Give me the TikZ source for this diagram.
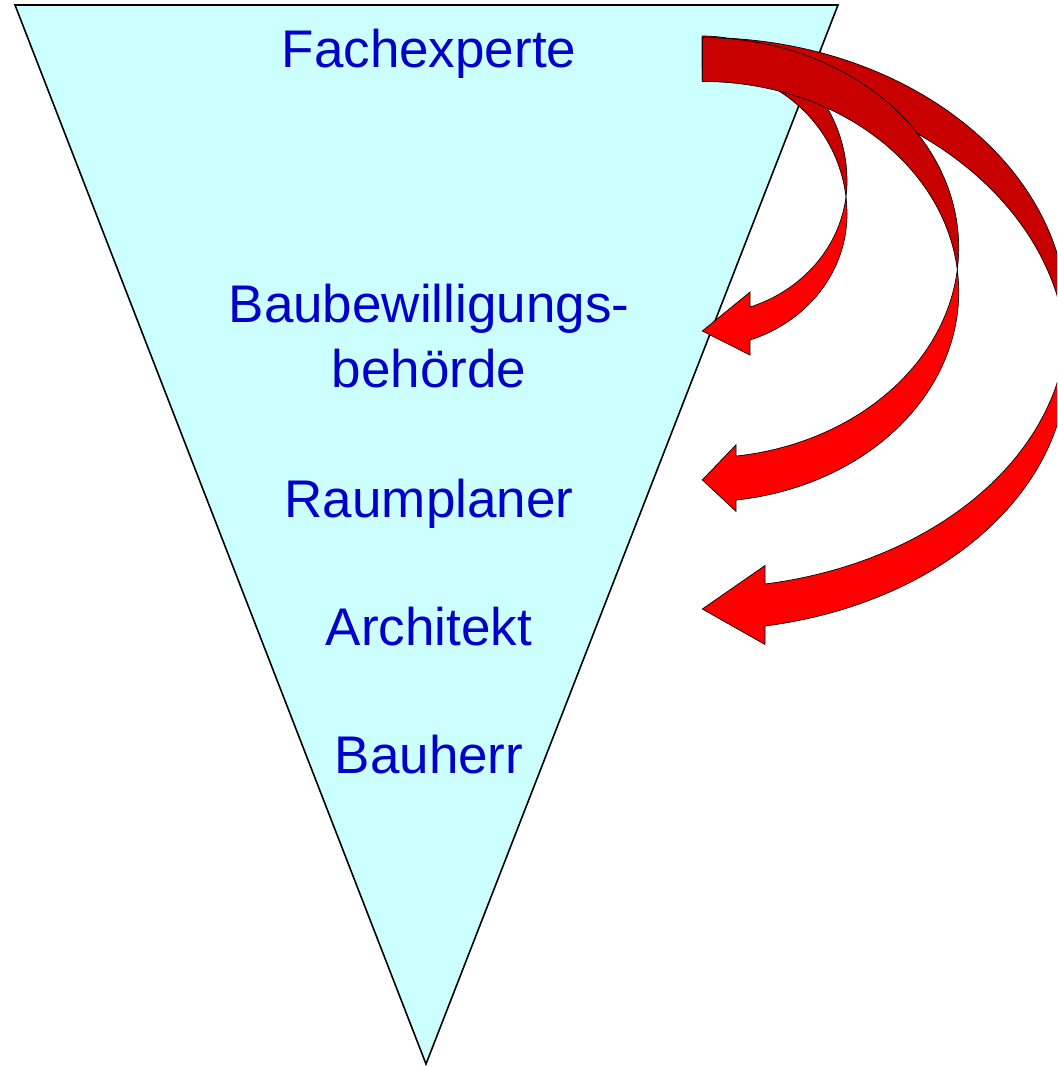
\documentclass[tikz,border=0pt]{standalone}
\usepackage{fontspec}
\setmainfont{Liberation Sans}
\usepackage{tikz}
\usetikzlibrary{calc}

\definecolor{funnelcyan}{RGB}{204,255,255}
\definecolor{roleblue}{RGB}{0,0,204}
\definecolor{arrowred}{RGB}{255,0,0}
\definecolor{arrowdark}{RGB}{200,0,0}

\begin{document}
\begin{tikzpicture}[
    x=0.75pt, y=0.75pt,
    funnel/.style = {draw=black, line width=1.2pt, fill=funnelcyan},
    role/.style = {text=roleblue, font=\fontsize{39.75}{48.5}\selectfont, align=center, inner sep=0pt, anchor=base},
    backpart/.style = {draw=black, line width=0.5pt, fill=arrowdark},
    frontpart/.style = {draw=black, line width=0.5pt, fill=arrowred}
]
\useasboundingbox (0,0) rectangle (1057,-1066);
\clip (0,0) rectangle (1057,-1066);

% Funnel (inverted triangle)
\coordinate (topleft) at (15,-5);
\coordinate (topright) at (838,-5);
\coordinate (tip) at (426,-1064);
\draw [funnel] (topleft) -- (topright) -- (tip) -- cycle;

% Roles, top to bottom (pixel units, y down as negative)
\node (fach) [role] at (429,-68) {Fachexperte};
\node (behoerde) [role] at (429,-387) {Baubewilligungs-\\behörde};
\node (raum) [role] at (429,-517) {Raumplaner};
\node (arch) [role] at (429,-645) {Architekt};
\node (bauherr) [role] at (429,-773) {Bauherr};

% Pinch points where back and front of each curved arrow meet
\coordinate (pinch1) at (845.98,-196.99);
\coordinate (pinch2) at (957.29,-269.7);
\coordinate (pinch3) at (1066.24,-340.45);

% Arrow 3: Fachexperte -> Architekt (outermost, drawn first)
\draw [backpart] (702.3,-37.5) arc[start angle=90, end angle=0, x radius=365, y radius=282.5]
    arc[start angle=0, end angle=-4.3755, x radius=365, y radius=268]
    arc[start angle=4.3755, end angle=90, x radius=365, y radius=282.5] -- cycle;
\draw [frontpart] (pinch3) arc[start angle=4.3755, end angle=0, x radius=365, y radius=282.5]
    arc[start angle=0, end angle=-80.109, x radius=365, y radius=268]
    -- (765,-644.5) -- (702.3,-609) -- (765,-565.5) -- (765,-584.02)
    arc[start angle=-80.109, end angle=-4.3755, x radius=365, y radius=268] -- cycle;

% Arrow 1: Fachexperte -> Baubewilligungsbehoerde
\draw [backpart] (702.3,-36) arc[start angle=90, end angle=0, x radius=144.7, y radius=145.2]
    arc[start angle=0, end angle=-6.805, x radius=144.7, y radius=133.3]
    arc[start angle=6.805, end angle=90, x radius=144.7, y radius=145.2] -- cycle;
\draw [frontpart] (pinch1) arc[start angle=6.805, end angle=0, x radius=144.7, y radius=145.2]
    arc[start angle=0, end angle=-70.75, x radius=144.7, y radius=133.3]
    -- (750,-355.05) -- (702.3,-331) -- (750,-292.05) -- (750,-307.05)
    arc[start angle=-70.75, end angle=-6.805, x radius=144.7, y radius=133.3] -- cycle;

% Arrow 2: Fachexperte -> Raumplaner (on top)
\draw [backpart] (702.3,-37.5) arc[start angle=90, end angle=-6.008, x radius=256.4, y radius=210.2]
    arc[start angle=6.008, end angle=90, x radius=256.4, y radius=210.2] -- cycle;
\draw [frontpart] (pinch2) arc[start angle=6.008, end angle=-82.447, x radius=256.4, y radius=210.2]
    -- (736,-511.4) -- (702.3,-479.9) -- (736,-444.8) -- (736,-456.08)
    arc[start angle=-82.447, end angle=-6.008, x radius=256.4, y radius=210.2] -- cycle;

\end{tikzpicture}
\end{document}
